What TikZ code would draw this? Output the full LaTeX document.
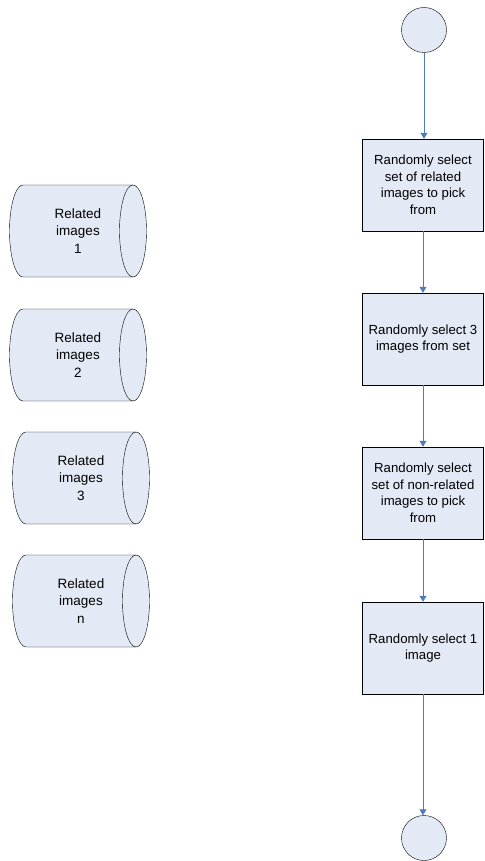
\documentclass[tikz,border=0pt]{standalone}
\usepackage{fontspec}
\setmainfont{Liberation Sans}
\usetikzlibrary{arrows.meta}

\definecolor{boxfill}{RGB}{228,233,246}
\definecolor{flowblue}{RGB}{79,125,185}

\tikzset{
  stepbox/.style={draw=black, fill=boxfill, thin, rectangle,
    minimum width=121pt, minimum height=92pt, inner sep=1pt,
    align=center, font=\fontsize{13.2}{16.5}\selectfont},
  terminal/.style={draw=black, fill=boxfill, thin, circle, minimum size=45pt, inner sep=0pt},
  flow/.style={draw=flowblue, thick, -{Triangle[width=7pt,length=6pt]}},
  storetext/.style={align=center, font=\fontsize{13.5}{17.5}\selectfont}
}

% store drawn as a lying cylinder: #1 shift, #2 top edge, #3 label
\newcommand{\relatedstore}[3]{%
  \fill[boxfill] (23+#1,#2) -- (133+#1,#2) arc (90:-90:13.5pt and 46pt)
    -- (23+#1,#2+92) arc (270:90:13.5pt and 46pt) -- cycle;
  \draw[thin] (23+#1,#2) -- (133+#1,#2) arc (90:-90:13.5pt and 46pt)
    -- (23+#1,#2+92) arc (270:90:13.5pt and 46pt);
  \draw[thin] (133+#1,#2) arc (90:270:13.5pt and 46pt);
  \node[storetext] at (78+#1,#2+46) {#3};
}

\begin{document}
\begin{tikzpicture}[x=1pt,y=-1pt]
  \useasboundingbox (0,0) rectangle (484,861);

  % related image stores on the left
  \relatedstore{0}{185}{Related\\images\\1}
  \relatedstore{0}{309}{Related\\images\\2}
  \relatedstore{3}{432}{Related\\images\\3}
  \relatedstore{3}{555}{Related\\images\\n}

  % selection flow
  \node[terminal] (start) at (424,30) {};
  \node[stepbox] (pickrel) at (423,185) {Randomly select\\set of related\\images to pick\\from};
  \node[stepbox] (pickthree) at (423,339) {Randomly select 3\\images from set};
  \node[stepbox] (picknon) at (423,493) {Randomly select\\set of non-related\\images to pick\\from};
  \node[stepbox] (pickone) at (423,648) {Randomly select 1\\image};
  \node[terminal] (stop) at (424,838) {};

  \draw[flow] (start) -- (start |- pickrel.north);
  \draw[flow] (pickrel) -- (pickthree);
  \draw[flow] (pickthree) -- (picknon);
  \draw[flow] (picknon) -- (pickone);
  \draw[flow] (pickone.south) -- (pickone.south |- stop.north);
\end{tikzpicture}
\end{document}
